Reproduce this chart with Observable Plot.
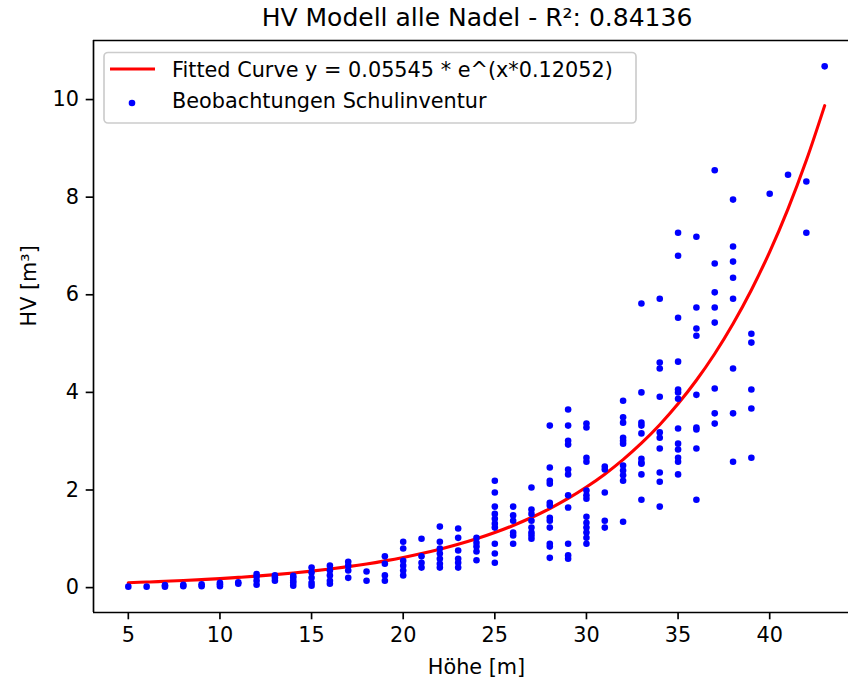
<!DOCTYPE html>
<html>
<head>
<meta charset="utf-8">
<script src="https://cdn.jsdelivr.net/npm/d3@7"></script>
<script src="https://cdn.jsdelivr.net/npm/@observablehq/plot@0.6"></script>
<style>
  html, body { margin: 0; padding: 0; background: #fff; overflow: hidden; }
  #wrap { position: relative; width: 848px; height: 679px; }
  #legend { position: absolute; left: 0; top: 0; }
</style>
</head>
<body>
<div id="wrap"></div>
<script>
// Observations: tree height (m) and stem volume HV (m³), grouped by height
const heights = [5,6,7,8,9,10,11,12,13,14,15,16,17,18,19,20,21,22,23,24,25,26,27,28,29,30,31,32,33,34,35,36,37,38,39,40,41,42,43];
const volumes = [
  [0.02],
  [0.02],
  [0.02, 0.05],
  [0.03, 0.06],
  [0.03, 0.07],
  [0.03, 0.07, 0.10],
  [0.08, 0.11],
  [0.06, 0.14, 0.22, 0.28],
  [0.14, 0.20, 0.25],
  [0.04, 0.10, 0.14, 0.20, 0.24],
  [0.04, 0.10, 0.20, 0.31, 0.41],
  [0.08, 0.14, 0.25, 0.35, 0.45],
  [0.20, 0.35, 0.45, 0.53],
  [0.14, 0.33],
  [0.14, 0.25, 0.49, 0.64],
  [0.25, 0.35, 0.45, 0.55, 0.80, 0.94],
  [0.41, 0.51, 0.64, 1.00],
  [0.41, 0.49, 0.59, 0.70, 0.80, 0.94, 1.25],
  [0.41, 0.51, 0.59, 0.76, 1.02, 1.21],
  [0.56, 0.74, 0.84, 0.92, 1.02],
  [0.51, 0.70, 0.90, 1.23, 1.31, 1.41, 1.51, 1.66, 1.95, 2.19],
  [0.90, 1.07, 1.13, 1.37, 1.48, 1.66],
  [1.00, 1.07, 1.13, 1.23, 1.37, 1.51, 1.60, 2.05],
  [0.61, 0.84, 0.90, 1.23, 1.37, 1.43, 1.68, 1.74, 2.13, 2.19, 2.46, 3.32],
  [0.59, 0.66, 0.90, 1.64, 1.89, 2.32, 2.42, 2.93, 3.01, 3.32, 3.65],
  [0.90, 1.02, 1.13, 1.23, 1.33, 1.45, 1.82, 1.89, 1.99, 2.58, 2.66, 3.28, 3.36],
  [1.23, 1.37, 1.95, 2.42, 2.48],
  [1.35, 2.19, 2.30, 2.40, 2.50, 2.95, 3.01, 3.07, 3.38, 3.49, 3.83],
  [1.80, 2.32, 2.54, 2.56, 2.64, 3.16, 3.32, 3.38, 4.00, 5.82],
  [1.66, 2.17, 2.36, 2.85, 3.07, 3.18, 3.91, 4.49, 4.61, 5.92],
  [2.32, 2.58, 2.66, 2.83, 2.95, 3.26, 3.87, 4.00, 4.06, 4.63, 5.53, 6.80, 7.27],
  [1.80, 2.85, 3.24, 3.28, 3.95, 5.16, 5.31, 5.74, 7.19],
  [3.36, 3.57, 4.08, 5.43, 5.74, 6.05, 6.64, 8.55],
  [2.58, 3.57, 4.49, 5.92, 6.35, 6.68, 6.99, 7.95],
  [2.66, 3.67, 4.06, 5.02, 5.20],
  [8.07],
  [8.46],
  [7.27, 8.32],
  [10.68]
];

// Fitted curve values (y = 0.05545 * e^(x*0.12052)) at each height
const curveX = heights;
const curveY = [0.101,0.114,0.129,0.145,0.164,0.185,0.209,0.236,0.266,0.300,0.338,0.381,0.430,0.485,0.548,0.618,0.697,0.786,0.887,1.000,1.128,1.273,1.436,1.620,1.827,2.061,2.325,2.623,2.959,3.338,3.766,4.248,4.792,5.406,6.098,6.879,7.761,8.755,9.876];

const xTicks = [5, 10, 15, 20, 25, 30, 35, 40];
const yTicks = [0, 2, 4, 6, 8, 10];

const titleText = "HV Modell alle Nadel - R²: 0.84136";
const xLabel = "Höhe [m]";
const yLabel = "HV [m³]";
const curveLabel = "Fitted Curve y = 0.05545 * e^(x*0.12052)";
const pointLabel = "Beobachtungen Schulinventur";

const obs = heights.flatMap((h, i) => volumes[i].map(v => ({h, v})));
const curve = curveX.map((x, i) => ({x, y: curveY[i]}));

const xDom = [3.1, 44.3];
const yDom = [-0.51, 11.21];
const font = "DejaVu Sans, sans-serif";
const lw = 1.67;

const chart = Plot.plot({
  width: 848,
  height: 679,
  marginLeft: 93,
  marginRight: 0,
  marginTop: 40,
  marginBottom: 67,
  style: {fontFamily: font, fontSize: "20.8px", color: "black", background: "white", overflow: "hidden"},
  x: {domain: xDom, label: null},
  y: {domain: yDom, label: null},
  marks: [
    Plot.axisX({ticks: xTicks, tickSize: 7.3, tickPadding: 7.3, strokeWidth: lw, fontSize: 20.8, label: null}),
    Plot.axisY({ticks: yTicks, tickSize: 7.3, tickPadding: 7.3, strokeWidth: lw, fontSize: 20.8, label: null}),
    Plot.line(curve, {x: "x", y: "y", stroke: "#ff0000", strokeWidth: 3.1, curve: "catmull-rom"}),
    Plot.dot(obs, {x: "h", y: "v", r: 3.3, fill: "#0000ff", stroke: "none"}),
    Plot.ruleX([xDom[0]], {stroke: "black", strokeWidth: lw}),
    Plot.ruleY([yDom[0]], {stroke: "black", strokeWidth: lw}),
    Plot.ruleY([yDom[1]], {stroke: "black", strokeWidth: lw}),
    Plot.text([titleText], {frameAnchor: "top", dy: -22.5, dx: 6, fontSize: 25, fill: "black", lineAnchor: "middle"}),
    Plot.text([xLabel], {frameAnchor: "bottom", dy: 55, dx: 5.5, fontSize: 20.8, fill: "black", lineAnchor: "middle"}),
    Plot.text([yLabel], {frameAnchor: "left", dx: -64, rotate: -90, fontSize: 20.8, fill: "black", lineAnchor: "middle"})
  ]
});

const wrap = document.getElementById("wrap");
wrap.appendChild(chart);

// Legend overlay
const ns = "http://www.w3.org/2000/svg";
const lg = document.createElementNS(ns, "svg");
lg.setAttribute("id", "legend");
lg.setAttribute("width", 848);
lg.setAttribute("height", 679);
lg.style.pointerEvents = "none";
function el(tag, attrs, text) {
  const e = document.createElementNS(ns, tag);
  for (const k in attrs) e.setAttribute(k, attrs[k]);
  if (text) e.textContent = text;
  lg.appendChild(e);
  return e;
}
el("rect", {x: 104, y: 52.5, width: 532, height: 70.5, rx: 4, ry: 4, fill: "rgba(255,255,255,0.8)", stroke: "rgb(204,204,204)", "stroke-width": 1.67});
el("line", {x1: 110, y1: 69, x2: 155, y2: 69, stroke: "#ff0000", "stroke-width": 3.1});
el("text", {x: 172, y: 77, "font-family": font, "font-size": 20.8, fill: "black"}, curveLabel);
el("circle", {cx: 132, cy: 103, r: 3.3, fill: "#0000ff"});
el("text", {x: 172, y: 108, "font-family": font, "font-size": 20.8, fill: "black"}, pointLabel);
wrap.appendChild(lg);
</script>
</body>
</html>
